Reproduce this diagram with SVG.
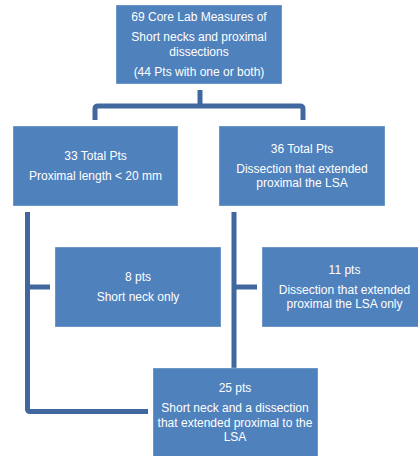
<svg xmlns="http://www.w3.org/2000/svg" width="418" height="456" viewBox="0 0 418 456">
<style>
.box{fill:#4f81bd;stroke:#ffffff;stroke-opacity:0.35;stroke-width:1}
.t{font-family:"Liberation Sans",Arial,sans-serif;font-size:12px;fill:#ffffff;text-anchor:middle}
.c{fill:none;stroke:#41689e;stroke-width:5;stroke-linejoin:round}
</style>
<rect width="418" height="456" fill="#ffffff"/>
<g id="connectors">
<path class="c" d="M200 90 V106"/>
<path class="c" d="M95 120 V109 Q95 106 98 106 H300 Q303 106 303 109 V120"/>
<path class="c" d="M27.5 212 V409 Q27.5 411.5 30 411.5 H148"/>
<path class="c" d="M27.5 287 H50"/>
<path class="c" stroke-width="4.5" d="M234 212 V368"/>
<path class="c" d="M234 287 H257"/>
</g>
<g id="n-top">
<rect class="box" x="116" y="5" width="166" height="79"/>
<text class="t" x="199" y="21">69 Core Lab Measures of</text>
<text class="t" x="199" y="41">Short necks and proximal</text>
<text class="t" x="199" y="56">dissections</text>
<text class="t" x="199" y="76">(44 Pts with one or both)</text>
</g>
<g id="n-33">
<rect class="box" x="13" y="126" width="165" height="80"/>
<text class="t" x="95.5" y="160">33 Total Pts</text>
<text class="t" x="95.5" y="180">Proximal length &lt; 20 mm</text>
</g>
<g id="n-36">
<rect class="box" x="219" y="126" width="166" height="80"/>
<text class="t" x="302" y="153">36 Total Pts</text>
<text class="t" x="302" y="173">Dissection that extended</text>
<text class="t" x="302" y="187">proximal the LSA</text>
</g>
<g id="n-8">
<rect class="box" x="55" y="247" width="166" height="80"/>
<text class="t" x="138" y="281">8 pts</text>
<text class="t" x="138" y="301">Short neck only</text>
</g>
<g id="n-11">
<rect class="box" x="262" y="247" width="165" height="80"/>
<text class="t" x="344.5" y="274">11 pts</text>
<text class="t" x="344.5" y="294">Dissection that extended</text>
<text class="t" x="344.5" y="308">proximal the LSA only</text>
</g>
<g id="n-25">
<rect class="box" x="153" y="368" width="165" height="95"/>
<text class="t" x="235" y="392">25 pts</text>
<text class="t" x="235" y="412">Short neck and a dissection</text>
<text class="t" x="235" y="427">that extended proximal to the</text>
<text class="t" x="235" y="441">LSA</text>
</g>
</svg>
